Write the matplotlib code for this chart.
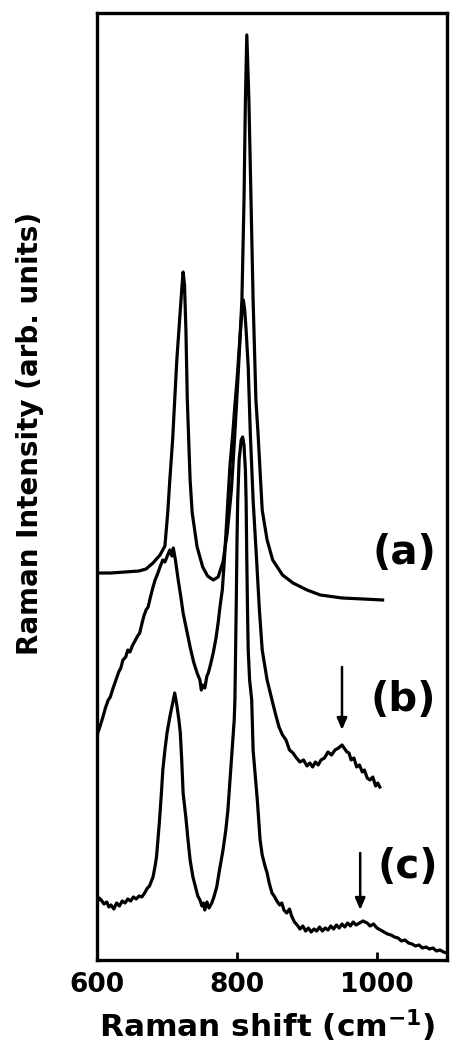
import matplotlib
matplotlib.use("Agg")
import matplotlib.pyplot as plt

# Raman spectra, intensities in arbitrary units (three stacked traces)
shift_a = [600, 620, 640, 660, 670, 680, 690, 697, 701, 704, 708, 711, 714, 718, 721,
           723, 725, 727, 729, 733, 736, 743, 751, 758, 766, 773, 780, 786, 792, 797,
           802, 807, 810, 812, 814, 817, 820, 823, 827, 830, 836, 843, 851, 865, 880,
           900, 919, 950, 980, 1008]
int_a = [387, 387, 388, 389, 391, 397, 405, 414, 447, 480, 520, 560, 600, 640, 670,
         688, 675, 630, 560, 480, 447, 413, 393, 384, 380, 383, 398, 427, 470, 527,
         590, 660, 760, 860, 925, 860, 760, 660, 560, 527, 450, 420, 400, 385, 377,
         370, 365, 362, 361, 360]

shift_b = [600, 604, 608, 612, 616, 619, 623, 627, 631, 634, 637, 641, 644, 647, 651,
           655, 658, 661, 664, 667, 670, 673, 676, 680, 683, 687, 690, 694, 697, 701,
           704, 707, 709, 712, 716, 720, 723, 728, 733, 738, 743, 747, 749, 751, 754,
           757, 759, 762, 766, 770, 773, 776, 779, 781, 783, 785, 787, 790, 794, 797,
           800, 804, 807, 809, 811, 813, 816, 819, 823, 828, 832, 836, 843, 850, 855,
           860, 865, 870, 875, 880, 885, 890, 895, 900, 904, 908, 912, 916, 920, 925,
           930, 935, 940, 945, 950, 953, 957, 960, 963, 967, 971, 975, 979, 982, 986,
           990, 994, 998, 1001, 1004]
int_b = [225, 233, 242, 252, 260, 263, 272, 280, 288, 292, 300, 303, 310, 308, 315,
         320, 324, 327, 336, 344, 350, 353, 362, 373, 380, 387, 393, 400, 398, 405,
         410, 404, 412, 400, 380, 362, 347, 330, 313, 298, 287, 280, 270, 275, 272,
         284, 287, 295, 307, 322, 337, 355, 370, 390, 413, 436, 460, 495, 527, 555,
         580, 620, 648, 660, 650, 630, 593, 527, 460, 400, 350, 310, 280, 260, 246,
         233, 225, 220, 210, 207, 202, 198, 200, 194, 197, 193, 198, 195, 200, 202,
         208, 205, 210, 212, 215, 212, 208, 207, 200, 202, 193, 195, 188, 190, 182,
         180, 183, 174, 177, 173]

shift_c = [600, 603, 606, 610, 614, 617, 620, 624, 628, 632, 636, 640, 644, 648, 652,
           656, 660, 664, 668, 672, 675, 680, 683, 685, 687, 689, 692, 694, 697, 700,
           704, 708, 711, 714, 717, 719, 721, 723, 727, 730, 733, 737, 741, 744, 747,
           750, 752, 754, 757, 760, 764, 767, 771, 775, 780, 784, 787, 790, 793, 796,
           797, 798, 799, 800, 801, 803, 806, 808, 810, 812, 813, 814, 815, 816, 818,
           821, 823, 826, 829, 833, 836, 840, 843, 846, 850, 853, 857, 861, 864, 867,
           871, 875, 878, 882, 886, 890, 894, 898, 902, 906, 910, 914, 918, 922, 926,
           930, 934, 938, 942, 946, 950, 954, 958, 962, 966, 970, 975, 980, 986, 990,
           995, 1000, 1005, 1010, 1015, 1020, 1025, 1030, 1035, 1040, 1045, 1050, 1055,
           1060, 1065, 1070, 1075, 1080, 1085, 1090, 1095, 1100]
int_c = [57, 62, 60, 56, 58, 53, 55, 51, 57, 54, 59, 57, 61, 59, 63,
         61, 64, 63, 67, 72, 74, 83, 94, 103, 120, 137, 167, 190, 210, 227,
         243, 257, 267, 255, 240, 227, 200, 167, 142, 120, 100, 83, 72, 64, 60,
         54, 57, 50, 58, 52, 57, 63, 73, 90, 110, 130, 150, 180, 210, 240,
         260, 310, 360, 420, 460, 500, 520, 523, 515, 490, 460, 400, 350, 310, 280,
         260, 210, 185, 160, 120, 105, 94, 87, 77, 67, 64, 59, 55, 57, 50,
         47, 51, 44, 38, 35, 31, 34, 29, 32, 28, 31, 29, 33, 29, 32,
         30, 34, 31, 35, 32, 36, 33, 37, 34, 38, 35, 37, 39, 37, 34,
         36, 32, 30, 28, 26, 25, 23, 22, 19, 20, 17, 16, 14,
         15, 12, 13, 11, 12, 9, 10, 8, 7]

labels = ["(a)", "(b)", "(c)"]
label_pos = [(1039, 407), (1037, 260), (1044, 93)]
# weak bands marked with arrows: (shift, arrow tail, arrow tip)
arrows = [(950, 293, 230), (976, 107, 50)]

plt.rcParams["font.family"] = "DejaVu Sans"
plt.rcParams["font.weight"] = "bold"

fig = plt.figure(figsize=(4.5, 10.47), dpi=100)
ax = fig.add_axes([0.2156, 0.0831, 0.7777, 0.9045])

lw = 2.3
ax.plot(shift_a, int_a, color="black", lw=lw, solid_joinstyle="round")
ax.plot(shift_b, int_b, color="black", lw=lw, solid_joinstyle="round")
ax.plot(shift_c, int_c, color="black", lw=lw, solid_joinstyle="round")

for txt, (x, y) in zip(labels, label_pos):
    ax.text(x, y, txt, fontsize=29, fontweight="bold", ha="center", va="center")

for x, y0, y1 in arrows:
    ax.annotate("", xy=(x, y1), xytext=(x, y0),
                arrowprops=dict(arrowstyle="-|>,head_length=0.7,head_width=0.3",
                                color="black", lw=1.8, shrinkA=0, shrinkB=0))

ax.set_xlim(600, 1100)
ax.set_ylim(0, 947)
ax.set_xticks([600, 800, 1000])
ax.set_yticks([])
ax.tick_params(axis="x", direction="in", length=6, width=2, labelsize=19, pad=9)
for lab in ax.get_xticklabels():
    lab.set_fontweight("bold")
for sp in ax.spines.values():
    sp.set_linewidth(2.4)

ax.set_xlabel("Raman shift (cm$^{\\mathbf{-1}}$)", fontsize=22.5, fontweight="bold")
ax.xaxis.set_label_coords(0.487, -0.05)
ax.set_ylabel("Raman Intensity (arb. units)", fontsize=20, fontweight="bold", va="center")
ax.yaxis.set_label_coords(-0.191, 0.556)

fig.savefig("out.png", dpi=100)
